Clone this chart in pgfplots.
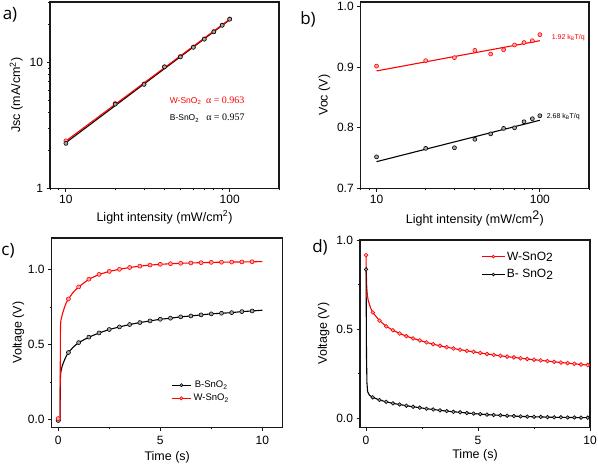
\documentclass[border=0pt]{standalone}
\usepackage{fontspec}
\setmainfont{Liberation Sans}
\newfontfamily\lblfont{Open Sans}
\newfontfamily\timesfont{Liberation Serif}
\usepackage{pgfplots}
\pgfplotsset{compat=1.18}
\definecolor{myred}{RGB}{255,0,0}
\pgfplotsset{
  base/.style={scale only axis, anchor=south west,
    axis line style={line width=1.2pt, black!90},
    tick align=outside, tick pos=left,
    major tick length=3.5pt, minor tick length=2pt,
    every tick/.style={black!90, line width=0.8pt},
    tick label style={font=\fontsize{12}{14}\selectfont},
    label style={font=\fontsize{12.5}{14}\selectfont},
    /pgf/number format/assume math mode=true},
  redl/.style={myred, line width=1.1pt},
  blkl/.style={black, line width=1.1pt},
  redm/.style={only marks, mark=*, mark size=2pt, mark options={draw=myred, fill=myred!35, line width=0.6pt}},
  blkm/.style={only marks, mark=*, mark size=2pt, mark options={draw=black, fill=black!35, line width=0.6pt}},
}
\begin{document}
\begin{tikzpicture}
\useasboundingbox (0,0) rectangle (598pt,466pt);
% ---------- a
\begin{axis}[base, at={(50pt,277.7pt)}, width=229pt, height=186.3pt,
  xmode=log, ymode=log, xmin=8, xmax=200, ymin=1, ymax=30,
  xtick={10,100}, xticklabels={10,100}, ytick={1,10}, yticklabels={1,10},
  minor xtick={8,9,20,30,40,50,60,70,80,90,200},
  minor ytick={2,3,4,5,6,7,8,9,20,30},
  xlabel={Light intensity (mW/cm\textsuperscript{2})},
  ylabel={Jsc (mA/cm\textsuperscript{2})}]
\addplot[blkl] coordinates {(10,2.30) (100,21.7)};
\addplot[redl] coordinates {(10,2.37) (100,21.9)};
\addplot[redm] coordinates {(10,2.38) (20,4.70) (30,6.72) (40,9.20) (50,11.1) (60,13.2) (70,15.3) (80,17.5) (90,19.7) (100,22.0)};
\addplot[blkm] coordinates {(10,2.27) (20,4.65) (30,6.66) (40,9.18) (50,11.0) (60,13.1) (70,15.2) (80,17.4) (90,19.6) (100,21.9)};
\node[anchor=west, font=\fontsize{8.5}{10}\selectfont, text=myred, inner sep=0pt] at (axis cs:43,4.94) {W-SnO\textsubscript{2}\ \ {\timesfont\fontsize{10}{12}\selectfont α = 0.963}};
\node[anchor=west, font=\fontsize{8.5}{10}\selectfont, text=black, inner sep=0pt] at (axis cs:43,3.6) {B-SnO\textsubscript{2}\ \ \ {\timesfont\fontsize{10}{12}\selectfont α = 0.957}};
\end{axis}
% ---------- b
\begin{axis}[base, at={(360.7pt,277.7pt)}, width=228.3pt, height=186.3pt,
  xmode=log, xmin=8, xmax=200, ymin=0.7, ymax=1.008,
  xtick={10,100}, xticklabels={10,100},
  minor xtick={8,9,20,30,40,50,60,70,80,90,200},
  ytick={0.7,0.8,0.9,1.0},
  yticklabel style={/pgf/number format/.cd, fixed, fixed zerofill, precision=1},
  xlabel={Light intensity (mW/cm\textsuperscript{\fontsize{12.5}{14}\selectfont 2})},
  ylabel={Voc (V)}]
\addplot[redl] coordinates {(10,0.894) (100,0.944)};
\addplot[blkl] coordinates {(10,0.744) (100,0.8125)};
\addplot[redm] coordinates {(10,0.902) (20,0.911) (30,0.916) (40,0.928) (50,0.922) (60,0.929) (70,0.937) (80,0.941) (90,0.944) (100,0.954)};
\addplot[blkm] coordinates {(10,0.752) (20,0.766) (30,0.767) (40,0.781) (50,0.790) (60,0.799) (70,0.800) (80,0.810) (90,0.815) (100,0.820)};
\node[anchor=west, font=\fontsize{7}{8}\selectfont, text=myred, inner sep=0pt] at (axis cs:118,0.9488) {1.92 k\textsubscript{B}T/q};
\node[anchor=west, font=\fontsize{7}{8}\selectfont, text=black, inner sep=0pt] at (axis cs:110,0.8178) {2.68 k\textsubscript{B}T/q};
\end{axis}
% ---------- c
\begin{axis}[base, at={(51.7pt,38.7pt)}, width=231pt, height=189.3pt,
  xmin=-0.32, xmax=11, ymin=-0.05, ymax=1.208,
  xtick={0,5,10}, ytick={0,0.5,1.0}, minor tick num=1,
  yticklabel style={/pgf/number format/.cd, fixed, fixed zerofill, precision=1},
  xticklabel style={yshift=-2pt},
  xlabel={Time (s)}, ylabel={Voltage (V)},
  xlabel style={yshift=0pt}, ylabel style={yshift=-3pt},
  legend style={draw=none, fill=none, at={(0.503,0.266)}, anchor=north west,
    font=\fontsize{9.5}{11}\selectfont, row sep=1pt},
  legend image code/.code={\draw[mark repeat=2, mark phase=2, #1] plot coordinates {(0cm,0cm) (0.34cm,0cm) (0.68cm,0cm)};}]
\addlegendimage{blkl, mark=*, mark size=1.6pt, mark options={draw=black, fill=black!35, line width=0.6pt}}
\addlegendentry{B-SnO\textsubscript{2}}
\addlegendimage{redl, mark=*, mark size=1.6pt, mark options={draw=myred, fill=myred!35, line width=0.6pt}}
\addlegendentry{W-SnO\textsubscript{2}}
\addplot[blkl, forget plot] coordinates {(0,-0.005) (0.09,-0.005) (0.1,0.20) (0.11,0.29) (0.13,0.32) (0.2,0.36) (0.3,0.395) (0.4,0.425) (0.5,0.447) (0.75,0.485) (1,0.513) (1.5,0.549) (2,0.577) (2.5,0.600) (3,0.617) (3.5,0.633) (4,0.646) (4.5,0.657) (5,0.668) (5.5,0.675) (6,0.684) (6.5,0.690) (7,0.697) (7.5,0.704) (8,0.708) (8.5,0.712) (9,0.719) (9.5,0.723) (10,0.728)};
\addplot[blkm, forget plot] coordinates {(0,-0.005) (0.5,0.447) (1,0.513) (1.5,0.549) (2,0.577) (2.5,0.600) (3,0.617) (3.5,0.633) (4,0.646) (4.5,0.657) (5,0.668) (5.5,0.675) (6,0.684) (6.5,0.690) (7,0.697) (7.5,0.704) (8,0.708) (8.5,0.712) (9,0.719) (9.5,0.723)};
\addplot[redl, forget plot] coordinates {(0,0.008) (0.09,0.008) (0.1,0.35) (0.11,0.62) (0.13,0.66) (0.2,0.70) (0.3,0.745) (0.4,0.78) (0.5,0.803) (0.75,0.85) (1,0.883) (1.5,0.934) (2,0.966) (2.5,0.986) (3,1.000) (3.5,1.012) (4,1.021) (4.5,1.028) (5,1.033) (5.5,1.037) (6,1.040) (6.5,1.042) (7,1.044) (7.5,1.046) (8,1.047) (8.5,1.048) (9,1.049) (9.5,1.050) (10,1.051)};
\addplot[redm, forget plot] coordinates {(0,0.008) (0.5,0.803) (1,0.883) (1.5,0.934) (2,0.966) (2.5,0.986) (3,1.000) (3.5,1.012) (4,1.021) (4.5,1.028) (5,1.033) (5.5,1.037) (6,1.040) (6.5,1.042) (7,1.044) (7.5,1.046) (8,1.047) (8.5,1.048) (9,1.049) (9.5,1.050)};
\end{axis}
% ---------- d
\begin{axis}[base, at={(360pt,38.7pt)}, width=230pt, height=187.3pt,
  xmin=-0.27, xmax=10, ymin=-0.05, ymax=1.0,
  xtick={0,5,10}, ytick={0,0.5,1.0}, minor tick num=1,
  yticklabel style={/pgf/number format/.cd, fixed, fixed zerofill, precision=1},
  xticklabel style={yshift=-1.5pt},
  xlabel={Time (s)}, ylabel={Voltage (V)},
  xlabel style={yshift=2pt},
  legend style={draw=none, fill=none, at={(0.516,0.96)}, anchor=north west,
    font=\fontsize{12}{14}\selectfont, row sep=4pt},
  legend image code/.code={\draw[mark repeat=2, mark phase=2, #1] plot coordinates {(0cm,0cm) (0.39cm,0cm) (0.78cm,0cm)};}]
\addlegendimage{myred, line width=0.9pt, mark=*, mark size=1.4pt, mark options={draw=myred, fill=myred!35, line width=0.6pt}}
\addlegendentry{W-SnO\raisebox{-0.3ex}{2}}
\addlegendimage{black, line width=0.9pt, mark=*, mark size=1.4pt, mark options={draw=black, fill=black!35, line width=0.6pt}}
\addlegendentry{B- SnO\raisebox{-0.3ex}{2}}
\addplot[redl, forget plot] coordinates {(0,0.915) (0.01,0.82) (0.03,0.74) (0.06,0.69) (0.1,0.66) (0.2,0.62) (0.3,0.594) (0.6,0.548) (0.9,0.516) (1.2,0.494) (1.5,0.476) (1.8,0.461) (2.1,0.448) (2.4,0.437) (2.7,0.426) (3.0,0.416) (3.3,0.407) (3.6,0.399) (3.9,0.392) (4.2,0.385) (4.5,0.379) (4.8,0.373) (5.1,0.367) (5.4,0.361) (5.7,0.356) (6.0,0.351) (6.3,0.346) (6.6,0.342) (6.9,0.337) (7.2,0.333) (7.5,0.329) (7.8,0.325) (8.1,0.321) (8.4,0.317) (8.7,0.313) (9.0,0.310) (9.3,0.306) (9.6,0.302) (9.9,0.299) (10,0.297)};
\addplot[redm, mark size=1.9pt, forget plot] coordinates {(0,0.915) (0.3,0.594) (0.6,0.548) (0.9,0.516) (1.2,0.494) (1.5,0.476) (1.8,0.461) (2.1,0.448) (2.4,0.437) (2.7,0.426) (3.0,0.416) (3.3,0.407) (3.6,0.399) (3.9,0.392) (4.2,0.385) (4.5,0.379) (4.8,0.373) (5.1,0.367) (5.4,0.361) (5.7,0.356) (6.0,0.351) (6.3,0.346) (6.6,0.342) (6.9,0.337) (7.2,0.333) (7.5,0.329) (7.8,0.325) (8.1,0.321) (8.4,0.317) (8.7,0.313) (9.0,0.310) (9.3,0.306) (9.6,0.302) (9.9,0.299)};
\addplot[blkl, forget plot] coordinates {(0,0.835) (0.01,0.6) (0.02,0.35) (0.04,0.2) (0.07,0.15) (0.15,0.13) (0.3,0.118) (0.6,0.103) (0.9,0.093) (1.2,0.084) (1.5,0.078) (1.8,0.071) (2.1,0.065) (2.4,0.060) (2.7,0.054) (3.0,0.050) (3.3,0.045) (3.6,0.041) (3.9,0.037) (4.2,0.034) (4.5,0.030) (4.8,0.027) (5.1,0.024) (5.4,0.021) (5.7,0.019) (6.0,0.017) (6.3,0.015) (6.6,0.013) (6.9,0.011) (7.2,0.010) (7.5,0.009) (7.8,0.008) (8.1,0.007) (8.4,0.006) (8.7,0.006) (9.0,0.005) (9.3,0.005) (9.6,0.004) (9.9,0.004) (10,0.004)};
\addplot[blkm, mark size=1.8pt, forget plot] coordinates {(0,0.835) (0.3,0.118) (0.6,0.103) (0.9,0.093) (1.2,0.084) (1.5,0.078) (1.8,0.071) (2.1,0.065) (2.4,0.060) (2.7,0.054) (3.0,0.050) (3.3,0.045) (3.6,0.041) (3.9,0.037) (4.2,0.034) (4.5,0.030) (4.8,0.027) (5.1,0.024) (5.4,0.021) (5.7,0.019) (6.0,0.017) (6.3,0.015) (6.6,0.013) (6.9,0.011) (7.2,0.010) (7.5,0.009) (7.8,0.008) (8.1,0.007) (8.4,0.006) (8.7,0.006) (9.0,0.005) (9.3,0.005) (9.6,0.004) (9.9,0.004)};
\end{axis}
% panel labels
\node[font=\lblfont\fontsize{17}{20}\selectfont] at (10pt,451pt) {a)};
\node[font=\lblfont\fontsize{17}{20}\selectfont] at (308pt,447pt) {b)};
\node[font=\lblfont\fontsize{17}{20}\selectfont] at (8pt,215pt) {c)};
\node[font=\lblfont\fontsize{17}{20}\selectfont] at (320pt,219pt) {d)};
\end{tikzpicture}
\end{document}
